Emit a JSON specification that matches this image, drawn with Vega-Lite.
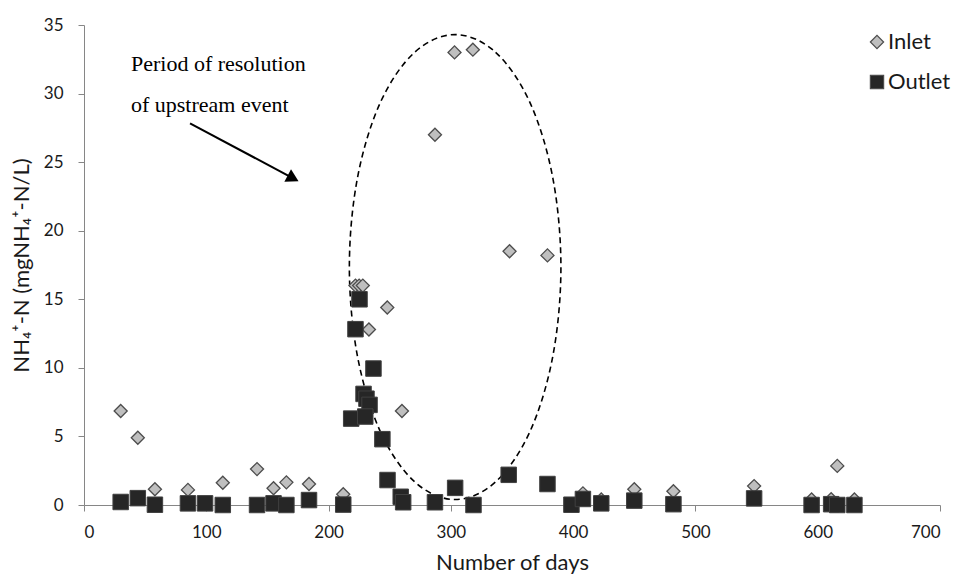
{
  "$schema": "https://vega.github.io/schema/vega-lite/v6.json",
  "width": 856,
  "height": 480,
  "autosize": {"type": "none"},
  "padding": {"left": 84, "top": 25, "right": 17, "bottom": 70},
  "background": "white",
  "config": {
    "view": {"stroke": null},
    "font": "Lato, DejaVu Sans",
    "axis": {
      "grid": false,
      "domainColor": "#868686",
      "tickColor": "#868686",
      "tickSize": 6,
      "labelColor": "#1a1a1a",
      "titleColor": "#1a1a1a",
      "labelFont": "Lato, DejaVu Sans",
      "titleFont": "Lato, DejaVu Sans",
      "labelFontSize": 17,
      "titleFontSize": 22,
      "titleFontWeight": "normal"
    },
    "legend": {
      "labelFont": "Lato, DejaVu Sans",
      "labelFontSize": 22,
      "labelColor": "#1a1a1a",
      "symbolSize": 175,
      "symbolStrokeWidth": 1.2,
      "rowPadding": 18,
      "padding": 0,
      "labelOffset": 0
    }
  },
  "datasets": {
    "points": [
      {"day": 30, "value": 6.85, "series": "Inlet"},
      {"day": 44, "value": 4.9, "series": "Inlet"},
      {"day": 58, "value": 1.15, "series": "Inlet"},
      {"day": 85, "value": 1.1, "series": "Inlet"},
      {"day": 113.5, "value": 1.62, "series": "Inlet"},
      {"day": 141.5, "value": 2.62, "series": "Inlet"},
      {"day": 155, "value": 1.22, "series": "Inlet"},
      {"day": 165.5, "value": 1.65, "series": "Inlet"},
      {"day": 184, "value": 1.53, "series": "Inlet"},
      {"day": 212, "value": 0.78, "series": "Inlet"},
      {"day": 222, "value": 16.0, "series": "Inlet"},
      {"day": 225, "value": 16.0, "series": "Inlet"},
      {"day": 228, "value": 16.0, "series": "Inlet"},
      {"day": 233, "value": 12.8, "series": "Inlet"},
      {"day": 248, "value": 14.4, "series": "Inlet"},
      {"day": 260, "value": 6.85, "series": "Inlet"},
      {"day": 287, "value": 27.0, "series": "Inlet"},
      {"day": 303, "value": 33.0, "series": "Inlet"},
      {"day": 318, "value": 33.2, "series": "Inlet"},
      {"day": 348, "value": 18.5, "series": "Inlet"},
      {"day": 379, "value": 18.2, "series": "Inlet"},
      {"day": 408, "value": 0.85, "series": "Inlet"},
      {"day": 423, "value": 0.4, "series": "Inlet"},
      {"day": 450, "value": 1.15, "series": "Inlet"},
      {"day": 482, "value": 1.0, "series": "Inlet"},
      {"day": 548, "value": 1.38, "series": "Inlet"},
      {"day": 595, "value": 0.4, "series": "Inlet"},
      {"day": 611, "value": 0.42, "series": "Inlet"},
      {"day": 616, "value": 2.85, "series": "Inlet"},
      {"day": 630, "value": 0.4, "series": "Inlet"},
      {"day": 30, "value": 0.22, "series": "Outlet"},
      {"day": 44, "value": 0.5, "series": "Outlet"},
      {"day": 58, "value": 0.02, "series": "Outlet"},
      {"day": 85, "value": 0.12, "series": "Outlet"},
      {"day": 99, "value": 0.12, "series": "Outlet"},
      {"day": 113.5, "value": 0.0, "series": "Outlet"},
      {"day": 141.5, "value": 0.0, "series": "Outlet"},
      {"day": 155, "value": 0.12, "series": "Outlet"},
      {"day": 165.5, "value": 0.0, "series": "Outlet"},
      {"day": 184, "value": 0.36, "series": "Outlet"},
      {"day": 212, "value": 0.03, "series": "Outlet"},
      {"day": 218.5, "value": 6.3, "series": "Outlet"},
      {"day": 222, "value": 12.82, "series": "Outlet"},
      {"day": 225.3, "value": 15.0, "series": "Outlet"},
      {"day": 228.6, "value": 8.1, "series": "Outlet"},
      {"day": 231, "value": 7.75, "series": "Outlet"},
      {"day": 233.5, "value": 7.3, "series": "Outlet"},
      {"day": 230, "value": 6.45, "series": "Outlet"},
      {"day": 236.7, "value": 9.95, "series": "Outlet"},
      {"day": 244, "value": 4.8, "series": "Outlet"},
      {"day": 248.2, "value": 1.82, "series": "Outlet"},
      {"day": 259, "value": 0.6, "series": "Outlet"},
      {"day": 261, "value": 0.2, "series": "Outlet"},
      {"day": 287, "value": 0.2, "series": "Outlet"},
      {"day": 303.5, "value": 1.25, "series": "Outlet"},
      {"day": 318.5, "value": 0.0, "series": "Outlet"},
      {"day": 347.3, "value": 2.2, "series": "Outlet"},
      {"day": 379, "value": 1.53, "series": "Outlet"},
      {"day": 398.6, "value": 0.02, "series": "Outlet"},
      {"day": 408, "value": 0.44, "series": "Outlet"},
      {"day": 423, "value": 0.12, "series": "Outlet"},
      {"day": 450, "value": 0.32, "series": "Outlet"},
      {"day": 482, "value": 0.06, "series": "Outlet"},
      {"day": 548, "value": 0.48, "series": "Outlet"},
      {"day": 595, "value": 0.0, "series": "Outlet"},
      {"day": 611, "value": 0.06, "series": "Outlet"},
      {"day": 616, "value": 0.0, "series": "Outlet"},
      {"day": 630, "value": 0.0, "series": "Outlet"}
    ],
    "ellipse": [
      {"i": 0, "day": 303.5, "value": 34.3},
      {"i": 1, "day": 336.6, "value": 33.01},
      {"i": 2, "day": 364.7, "value": 29.34},
      {"i": 3, "day": 383.4, "value": 23.84},
      {"i": 4, "day": 390, "value": 17.35},
      {"i": 5, "day": 383.4, "value": 10.86},
      {"i": 6, "day": 364.7, "value": 5.36},
      {"i": 7, "day": 336.6, "value": 1.69},
      {"i": 8, "day": 303.5, "value": 0.4},
      {"i": 9, "day": 270.4, "value": 1.69},
      {"i": 10, "day": 242.3, "value": 5.36},
      {"i": 11, "day": 223.6, "value": 10.86},
      {"i": 12, "day": 217, "value": 17.35},
      {"i": 13, "day": 223.6, "value": 23.84},
      {"i": 14, "day": 242.3, "value": 29.34},
      {"i": 15, "day": 270.4, "value": 33.01}
    ],
    "arrow": [
      {"day": 86.7, "value": 27.83, "day2": 171.5, "value2": 23.8}
    ],
    "arrowhead": [
      {"day": 171.0, "value": 23.82}
    ],
    "notes": [
      {"day": 38.4, "value": 32.16, "text": "Period of resolution"},
      {"day": 38.4, "value": 29.17, "text": "of upstream event"}
    ]
  },
  "encoding": {
    "x": {
      "field": "day",
      "type": "quantitative",
      "title": "Number of days",
      "scale": {"domain": [0, 700], "nice": false, "zero": true},
      "axis": {"values": [0, 100, 200, 300, 400, 500, 600, 700], "labelPadding": 13, "titlePadding": 12}
    },
    "y": {
      "field": "value",
      "type": "quantitative",
      "title": "NH₄⁺-N  (mgNH₄⁺-N/L)",
      "scale": {"domain": [0, 35], "nice": false},
      "axis": {"values": [0, 5, 10, 15, 20, 25, 30, 35], "labelPadding": 15, "titlePadding": 10}
    }
  },
  "layer": [
    {
      "data": {"name": "ellipse"},
      "mark": {"type": "line", "interpolate": "cardinal-closed", "color": "black", "strokeWidth": 1.6, "strokeDash": [6, 4]},
      "encoding": {"order": {"field": "i", "type": "quantitative"}}
    },
    {
      "data": {"name": "points"},
      "transform": [{"filter": "datum.series === 'Inlet'"}],
      "mark": {"type": "point", "filled": false, "size": 170, "opacity": 1, "stroke": "#4d4d4d", "strokeWidth": 1.3},
      "encoding": {
        "shape": {"field": "series", "type": "nominal", "scale": {"domain": ["Inlet", "Outlet"], "range": ["diamond", "square"]}, "legend": {"title": null, "orient": "none", "legendX": 782, "legendY": 6}},
        "fill": {"field": "series", "type": "nominal", "scale": {"domain": ["Inlet", "Outlet"], "range": ["#BFBFBF", "#262626"]}, "legend": {"title": null, "orient": "none", "legendX": 782, "legendY": 6}}
      }
    },
    {
      "data": {"name": "points"},
      "transform": [{"filter": "datum.series === 'Outlet'"}],
      "mark": {"type": "point", "filled": false, "size": 240, "opacity": 1, "stroke": "#404040", "strokeWidth": 1},
      "encoding": {
        "shape": {"field": "series", "type": "nominal", "scale": {"domain": ["Inlet", "Outlet"], "range": ["diamond", "square"]}, "legend": {"title": null, "orient": "none", "legendX": 782, "legendY": 6}},
        "fill": {"field": "series", "type": "nominal", "scale": {"domain": ["Inlet", "Outlet"], "range": ["#BFBFBF", "#262626"]}, "legend": {"title": null, "orient": "none", "legendX": 782, "legendY": 6}}
      }
    },
    {
      "data": {"name": "arrow"},
      "mark": {"type": "rule", "color": "black", "strokeWidth": 2},
      "encoding": {
        "x2": {"field": "day2"},
        "y2": {"field": "value2"}
      }
    },
    {
      "data": {"name": "arrowhead"},
      "mark": {"type": "point", "shape": "triangle-right", "filled": true, "color": "black", "size": 200, "angle": 28, "opacity": 1},
      "encoding": {}
    },
    {
      "data": {"name": "notes"},
      "mark": {"type": "text", "align": "left", "baseline": "middle", "font": "Liberation Serif", "fontSize": 22, "color": "black"},
      "encoding": {"text": {"field": "text", "type": "nominal"}}
    }
  ]
}
